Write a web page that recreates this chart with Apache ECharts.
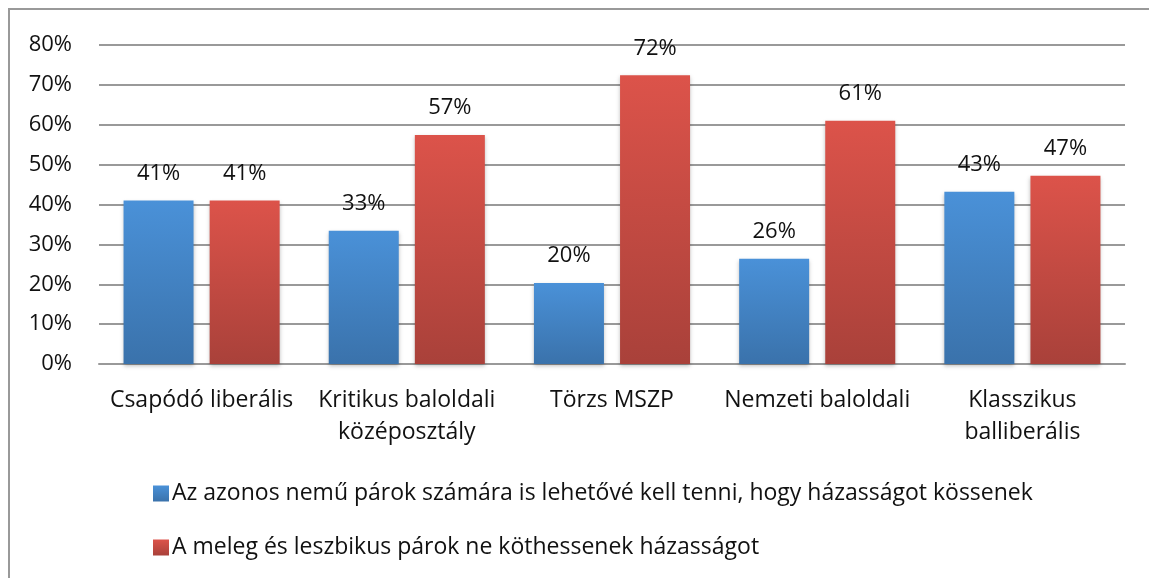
<!DOCTYPE html>
<html>
<head>
<meta charset="utf-8">
<script src="https://cdn.jsdelivr.net/npm/echarts@6/dist/echarts.min.js"></script>
<style>
html, body { margin: 0; padding: 0; background: #fff; }
#chart { width: 1149px; height: 578px; }
</style>
</head>
<body>
<div id="chart"></div>
<script>
var categories = ['Csapódó liberális', 'Kritikus baloldali\nközéposztály', 'Törzs MSZP', 'Nemzeti baloldali', 'Klasszikus\nballiberális'];
var seriesNames = [
    'Az azonos nemű párok számára is lehetővé kell tenni, hogy házasságot kössenek',
    'A meleg és leszbikus párok ne köthessenek házasságot'
];
var valuesFor = [41, 33.4, 20.3, 26.4, 43.2];
var valuesAgainst = [41, 57.4, 72.4, 61, 47.2];

var fontFamily = '"Open Sans", sans-serif';

function grad(top, bottom) {
    return new echarts.graphic.LinearGradient(0, 0, 0, 1, [
        { offset: 0, color: top },
        { offset: 1, color: bottom }
    ]);
}

var myChart = echarts.init(document.getElementById('chart'));

var labelStyle = {
    show: true,
    position: 'top',
    distance: 16,
    color: '#111',
    fontSize: 22,
    fontFamily: fontFamily,
    formatter: function (p) { return Math.round(p.value) + '%'; }
};

var option = {
    animation: false,
    backgroundColor: '#fff',
    graphic: [{
        type: 'rect',
        shape: { x: 9, y: 9, width: 1200, height: 620 },
        style: { fill: 'none', stroke: '#999', lineWidth: 2 },
        silent: true
    }],
    grid: { left: 99, right: 24, top: 45, bottom: 214, containLabel: false },
    legend: {
        orient: 'vertical',
        left: 148,
        top: 477,
        itemWidth: 16,
        itemHeight: 16,
        itemGap: 31,
        icon: 'rect',
        textStyle: { fontSize: 23, lineHeight: 22, color: '#111', fontFamily: fontFamily, padding: [0, 0, 0, -2] },
        data: seriesNames
    },
    xAxis: {
        type: 'category',
        data: categories,
        axisLine: { lineStyle: { color: '#999', width: 2 } },
        axisTick: { show: false },
        axisLabel: { color: '#111', fontSize: 23, fontFamily: fontFamily, margin: 20, lineHeight: 32, interval: 0 }
    },
    yAxis: {
        type: 'value',
        min: 0,
        max: 80,
        interval: 10,
        axisLine: { show: false },
        axisTick: { show: false },
        axisLabel: { color: '#111', fontSize: 22, fontFamily: fontFamily, margin: 27, formatter: '{value}%' },
        splitLine: { lineStyle: { color: '#999', width: 2 } }
    },
    series: [{
        name: seriesNames[0],
        type: 'bar',
        data: valuesFor,
        barWidth: 70,
        barGap: '23%',
        itemStyle: { color: grad('#4a91d8', '#3a72ab'), shadowColor: 'rgba(0,0,0,0.25)', shadowBlur: 4, shadowOffsetY: 2 },
        label: labelStyle
    }, {
        name: seriesNames[1],
        type: 'bar',
        data: valuesAgainst,
        barWidth: 70,
        itemStyle: { color: grad('#dc534a', '#a9413a'), shadowColor: 'rgba(0,0,0,0.25)', shadowBlur: 4, shadowOffsetY: 2 },
        label: labelStyle
    }]
};

myChart.setOption(option);
</script>
</body>
</html>
